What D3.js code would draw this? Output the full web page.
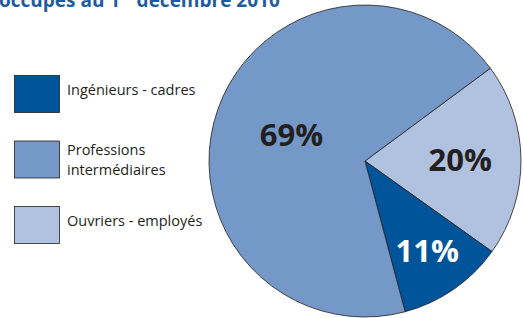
<!DOCTYPE html>
<html>
<head>
<meta charset="utf-8">
<script src="https://cdn.jsdelivr.net/npm/d3@7"></script>
<style>
html,body{margin:0;padding:0;background:#fff;}
svg{display:block;}
</style>
</head>
<body>
<svg id="chart" width="523" height="318"></svg>
<script>
const categories = ["Ouvriers - employés", "Ingénieurs - cadres", "Professions intermédiaires"];
const values = [20, 11, 69];
const valueLabels = ["20%", "11%", "69%"];
const legendOrder = ["Ingénieurs - cadres", "Professions\nintermédiaires", "Ouvriers - employés"];
const legendKeys = ["Ingénieurs - cadres", "Professions intermédiaires", "Ouvriers - employés"];
const titleText = "occupés au 1er décembre 2010";

const colors = d3.scaleOrdinal()
  .domain(["Ingénieurs - cadres", "Professions intermédiaires", "Ouvriers - employés"])
  .range(["#00559a", "#7498c7", "#b1c1e0"]);
const labelColors = {"Ingénieurs - cadres": "#ffffff", "Professions intermédiaires": "#231f20", "Ouvriers - employés": "#231f20"};
const labelRadiusFrac = {"Ingénieurs - cadres": 0.7, "Professions intermédiaires": 0.5, "Ouvriers - employés": 0.61};

const svg = d3.select("#chart");
const cx = 365, cy = 161, r = 156;
const font = "'Open Sans', 'Noto Sans', sans-serif";

// title (cut off at top, as in the source)
const t = svg.append("text").attr("x", -1).attr("y", 7)
  .attr("font-family", font).attr("font-weight", 700).attr("font-size", 19)
  .attr("fill", "#1f5c9e");
t.append("tspan").text("occupés au 1");
t.append("tspan").text("er").attr("font-size", 11).attr("dy", -7);
t.append("tspan").text(" décembre 2010").attr("dy", 7);

const pie = d3.pie().sort(null).value(d => d.v)
  .startAngle(53.5 * Math.PI / 180).endAngle(53.5 * Math.PI / 180 + 2 * Math.PI);
const data = categories.map((c, i) => ({c, v: values[i], l: valueLabels[i]}));
const arcs = pie(data);
const arc = d3.arc().innerRadius(0).outerRadius(r);

const g = svg.append("g").attr("transform", `translate(${cx},${cy})`);
g.selectAll("path").data(arcs).join("path")
  .attr("d", arc)
  .attr("fill", d => colors(d.data.c))
  .attr("stroke", "#231f20").attr("stroke-width", 0.8);

g.selectAll("text").data(arcs).join("text")
  .attr("transform", d => {
    const lr = r * labelRadiusFrac[d.data.c];
    const a = d3.arc().innerRadius(lr).outerRadius(lr).centroid(d);
    return `translate(${a[0]},${a[1]})`;
  })
  .attr("text-anchor", "middle").attr("dy", "0.35em")
  .attr("font-family", font).attr("font-weight", 700).attr("font-size", 31)
  .attr("fill", d => labelColors[d.data.c])
  .text(d => d.data.l);

// legend
const ly = d3.scalePoint().domain(legendKeys).range([75, 206]);
const lg = svg.append("g");
legendKeys.forEach((k, i) => {
  const y = ly(k);
  lg.append("rect").attr("x", 14.5).attr("y", y + 0.5).attr("width", 45).attr("height", 37)
    .attr("fill", colors(k)).attr("stroke", "#231f20").attr("stroke-width", 0.8);
  const lines = legendOrder[i].split("\n");
  const tx = lg.append("text").attr("font-family", font).attr("font-size", 14.5).attr("fill", "#231f20");
  lines.forEach((ln, j) => {
    const base = lines.length === 1 ? y + 20 : y + 14 + j * 20;
    tx.append("tspan").attr("x", 67).attr("y", base).text(ln);
  });
});
</script>
</body>
</html>
